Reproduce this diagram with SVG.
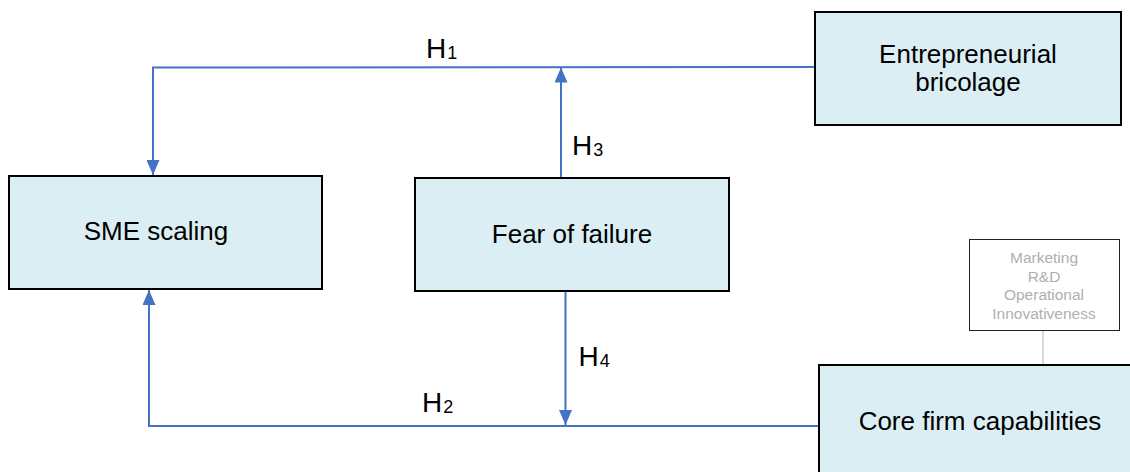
<svg xmlns="http://www.w3.org/2000/svg" width="1130" height="472" viewBox="0 0 1130 472">
<style>
.box{fill:#DAEEF3;stroke:#000;stroke-width:2}
.lbl{font-family:"Liberation Sans",Arial,sans-serif;font-size:26px;fill:#000;text-anchor:middle}
.h{font-family:"Liberation Sans",Arial,sans-serif;font-size:28px;fill:#000}
.sub{font-size:18px}
.conn{fill:none;stroke:#4472C4;stroke-width:2;marker-end:url(#arr)}
.gray{font-family:"Liberation Sans",Arial,sans-serif;font-size:15.5px;fill:#AFAFAF;text-anchor:middle}
</style>
<defs>
<marker id="arr" viewBox="0 0 15 13" refX="15" refY="6.5" markerWidth="15" markerHeight="13" markerUnits="userSpaceOnUse" orient="auto">
<path d="M0,0 L15,6.5 L0,13 Z" fill="#4472C4"/>
</marker>
</defs>
<rect width="1130" height="472" fill="#fff"/>
<g id="connectors">
<path class="conn" d="M815,67 L153,67.5 L153,175"/>
<path class="conn" d="M561,183 L561,67.5"/>
<path class="conn" d="M820,426 L149,426 L149,290"/>
<path class="conn" d="M565.5,291 L565.5,425"/>
<path d="M1043,330 L1043,365" fill="none" stroke="#D9D9D9" stroke-width="2"/>
<text class="h" x="426" y="58">H<tspan class="sub" dx="1" dy="0.5">1</tspan></text>
<text class="h" x="572" y="155">H<tspan class="sub" dx="1" dy="0.5">3</tspan></text>
<text class="h" x="578.5" y="366">H<tspan class="sub" dx="1" dy="0.5">4</tspan></text>
<text class="h" x="422" y="412">H<tspan class="sub" dx="1" dy="0.5">2</tspan></text>
</g>
<g id="sme-scaling">
<rect class="box" x="9" y="176" width="313" height="113"/>
<text class="lbl" x="156" y="240">SME scaling</text>
</g>
<g id="fear-of-failure">
<rect class="box" x="415" y="178" width="314" height="113"/>
<text class="lbl" x="572" y="242.5">Fear of failure</text>
</g>
<g id="entrepreneurial-bricolage">
<rect class="box" x="815" y="12" width="306" height="113"/>
<text class="lbl" x="968" y="62.5">Entrepreneurial</text>
<text class="lbl" x="968" y="90.5">bricolage</text>
</g>
<g id="core-firm-capabilities">
<rect class="box" x="819" y="365" width="330" height="130"/>
<text class="lbl" x="980" y="430">Core firm capabilities</text>
</g>
<g id="capabilities-list">
<rect x="969.5" y="239.5" width="150" height="91" fill="#fff" stroke="#222" stroke-width="1"/>
<text class="gray" x="1044" y="263">Marketing</text>
<text class="gray" x="1044" y="281.5">R&amp;D</text>
<text class="gray" x="1044" y="300">Operational</text>
<text class="gray" x="1044" y="318.5">Innovativeness</text>
</g>
</svg>
